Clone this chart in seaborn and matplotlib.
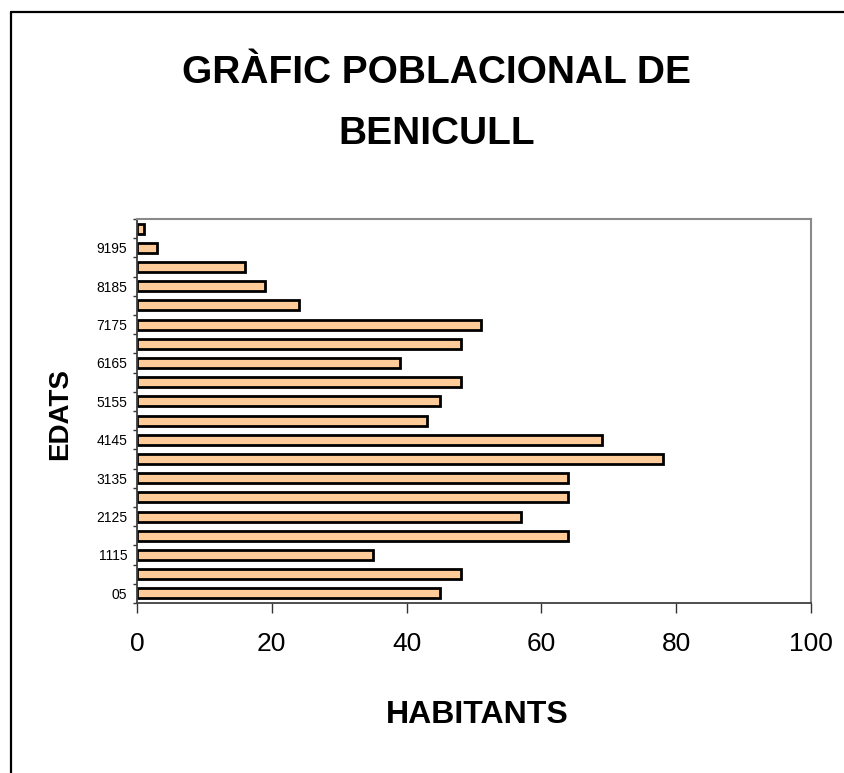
import matplotlib
matplotlib.use("Agg")
import matplotlib.pyplot as plt
from matplotlib.lines import Line2D
import seaborn as sns
import pandas as pd

# dades del grafic (de baix a dalt)
edats = ["05", "610", "1115", "1620", "2125", "2630", "3135", "3640", "4145", "4650",
         "5155", "5660", "6165", "6670", "7175", "7680", "8185", "8690", "9195", "96100"]
habitants = [45, 48, 35, 64, 57, 64, 64, 78, 69, 43,
             45, 48, 39, 48, 51, 24, 19, 16, 3, 1]
xticks = [0, 20, 40, 60, 80, 100]

df = pd.DataFrame({"edat": edats, "habitants": habitants})

sns.set_style("ticks")
plt.rcParams["font.family"] = ["Liberation Sans", "DejaVu Sans"]
plt.rcParams["text.color"] = "black"
plt.rcParams["axes.labelcolor"] = "black"

fig = plt.figure(figsize=(8.45, 7.73), dpi=100)
ax = fig.add_axes([137 / 845, 1 - 603 / 773, 674 / 845, 384 / 773])

sns.barplot(data=df, x="habitants", y="edat", order=edats, orient="h",
            color="#FFCC99", saturation=1, width=0.52,
            edgecolor="black", linewidth=2, ax=ax)

ax.set_ylim(-0.5, len(edats) - 0.5)
ax.set_xlim(0, 100)
ax.set_xticks(xticks)
ax.set_xticklabels([str(t) for t in xticks], fontsize=19, color="black")
ax.tick_params(axis="x", direction="out", length=7, width=1, color="#333333", pad=14)

ax.set_yticks(range(len(edats)))
ax.set_yticklabels([e if i % 2 == 0 else "" for i, e in enumerate(edats)], fontsize=10, color="black")
ax.tick_params(axis="y", which="major", length=0, pad=7)
ax.set_yticks([i + 0.5 for i in range(-1, len(edats))], minor=True)
ax.tick_params(axis="y", which="minor", direction="out", length=3, width=1, color="#333333")

for s in ["left", "bottom"]:
    ax.spines[s].set_color("#404040")
    ax.spines[s].set_linewidth(1.3)
for s in ["top", "right"]:
    ax.spines[s].set_visible(True)
    ax.spines[s].set_color("#8a8a8a")
    ax.spines[s].set_linewidth(1.5)

ax.set_xlabel("HABITANTS", fontsize=23, fontweight="bold", color="black")
ax.xaxis.label.set_va("baseline")
ax.xaxis.set_label_coords((477 - 137) / 674, -(723 - 603) / 384)
ax.set_ylabel("EDATS", fontsize=20, fontweight="bold", color="black")
ax.yaxis.label.set_va("center")
ax.yaxis.set_label_coords((60 - 137) / 674, (603 - 414) / 384)

fig.text(437 / 845, 1 - 83 / 773, "GRÀFIC POBLACIONAL DE", fontsize=28, fontweight="bold",
         ha="center", va="baseline", color="black")
fig.text(437 / 845, 1 - 144 / 773, "BENICULL", fontsize=28, fontweight="bold",
         ha="center", va="baseline", color="black")

# marc del grafic
fig.add_artist(Line2D([11 / 845, 11 / 845], [0, 1 - 12 / 773], color="black", lw=1.6))
fig.add_artist(Line2D([11 / 845, 1], [1 - 12 / 773, 1 - 12 / 773], color="black", lw=1.6))

fig.savefig("out.png", dpi=100)
